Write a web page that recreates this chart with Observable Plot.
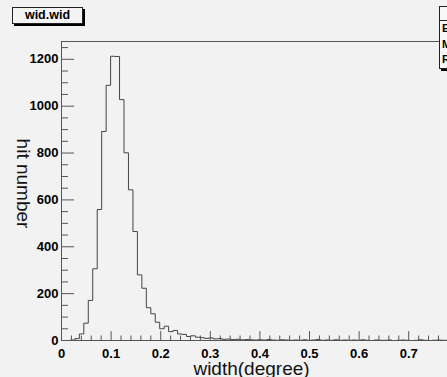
<!DOCTYPE html>
<html><head><meta charset="utf-8">
<script src="https://cdn.jsdelivr.net/npm/d3@7"></script>
<script src="https://cdn.jsdelivr.net/npm/@observablehq/plot@0.6"></script>
<style>
html,body{margin:0;padding:0;background:#f2f2f2;overflow:hidden;width:447px;height:377px;}
#wrap{position:relative;width:447px;height:377px;overflow:hidden;font-family:"Liberation Sans",Arial,Helvetica,sans-serif;}
#wrap svg{display:block;}
#title{position:absolute;left:12px;top:7px;width:69px;height:15px;border:1px solid #222;box-shadow:2px 2px 0 #000;background:#f4f4f4;font-weight:bold;font-size:12.5px;text-align:center;line-height:15px;color:#000;}
#stats{position:absolute;left:439px;top:6px;width:150px;border:1px solid #222;box-shadow:2px 2px 0 #000;background:#f8f8f8;font-size:11px;font-weight:bold;color:#000;}
#stats .hd{height:13px;border-bottom:1px solid #222;text-align:center;font-size:10px;line-height:13px;}
#stats .row{height:15.5px;line-height:15.5px;padding-left:2px;display:flex;justify-content:space-between;padding-right:6px;}
</style>
</head><body>
<div id="wrap"></div>
<script>
// ---- data ----
const histName = "wid.wid";
const xTitle = "width(degree)";
const yTitle = "hit number";
const binWidth = 0.009;
// bin contents, bins of width 0.009 starting at 0
const counts = [
  0, 0, 2, 8, 28, 74, 171, 306, 559, 892,
  1089, 1213, 1212, 1028, 801, 643, 465, 280, 223, 140,
  114, 78, 50, 61, 38, 43, 28, 26, 17, 20,
  14, 12, 9, 11, 7, 8, 5, 6, 4, 5,
  3, 4, 3, 2, 3, 2, 4, 2, 1, 3,
  2, 1, 2, 1, 3, 1, 2, 4, 1, 2,
  1, 3, 1, 2, 1, 2, 1, 3, 1, 0,
  2, 1, 1, 2, 0, 1, 2, 1, 0, 1,
  3, 1, 0, 1, 2, 1, 1, 0, 1, 1,
  1, 0, 1, 0, 0, 1, 0, 1, 0, 0
];
const xMajor = [0, 0.1, 0.2, 0.3, 0.4, 0.5, 0.6, 0.7];
const xMinor = [0.02, 0.04, 0.06, 0.08, 0.12, 0.14, 0.16, 0.18, 0.22, 0.24, 0.26, 0.28,
  0.32, 0.34, 0.36, 0.38, 0.42, 0.44, 0.46, 0.48, 0.52, 0.54, 0.56, 0.58,
  0.62, 0.64, 0.66, 0.68, 0.72, 0.74, 0.76];
const yMajor = [0, 200, 400, 600, 800, 1000, 1200];
const yMinor = [50, 100, 150, 250, 300, 350, 450, 500, 550, 650, 700, 750,
  850, 900, 950, 1050, 1100, 1150, 1250];
const statsLabels = ["Entries", "Mean", "RMS"];
const statsValues = ["9783", "0.1175", "0.04163"];

// ---- layout ----
const W = 447, H = 377;
const mL = 61, mR = 0, mT = 41, mB = 37;
const plotW = W - mL - mR, plotH = H - mT - mB;
const xMax = 0.7782, yMax = 1276;

const pts = counts.map((c, i) => ({x: i * binWidth, y: c}));
pts.push({x: counts.length * binWidth, y: 0});

const axisColor = "#555";
const chart = Plot.plot({
  width: W, height: H,
  marginLeft: mL, marginRight: mR, marginTop: mT, marginBottom: mB,
  style: {background: "#f2f2f2", fontFamily: "'Liberation Sans', Arial, Helvetica, sans-serif", overflow: "hidden"},
  x: {domain: [0, xMax]},
  y: {domain: [0, yMax]},
  marks: [
    Plot.line(pts, {x: "x", y: "y", curve: "step-after", stroke: "#444", strokeWidth: 1, clip: true}),
    Plot.tickX(xMinor, {x: d => d, insetTop: plotH - 4.5, stroke: axisColor}),
    Plot.tickX(xMajor, {x: d => d, insetTop: plotH - 9, stroke: axisColor}),
    Plot.tickY(yMinor, {y: d => d, insetRight: plotW - 7, stroke: axisColor}),
    Plot.tickY(yMajor, {y: d => d, insetRight: plotW - 13, stroke: axisColor}),
    Plot.ruleY([0], {stroke: axisColor}),
    Plot.ruleY([yMax], {stroke: axisColor}),
    Plot.ruleX([0], {stroke: axisColor}),
    Plot.axisX(xMajor, {tickSize: 0, tickPadding: 8.5, fontSize: 13, fontWeight: "bold", fill: "#000",
      tickFormat: d => d === 0 ? "0" : d.toFixed(1), label: null}),
    Plot.axisY(yMajor, {tickSize: 0, tickPadding: 3, fontSize: 13, fontWeight: "bold", fill: "#000",
      tickFormat: d => String(d), label: null}),
    Plot.text([xTitle], {frameAnchor: "bottom", textAnchor: "middle", lineAnchor: "middle",
      dx: -3, dy: 28, fontSize: 19, fill: "#111"}),
    Plot.text([yTitle], {frameAnchor: "left", textAnchor: "middle", lineAnchor: "middle",
      rotate: 90, dx: -38, dy: -7.5, fontSize: 19, fill: "#111"})
  ]
});
const wrap = document.getElementById("wrap");
wrap.appendChild(chart);

const t = document.createElement("div");
t.id = "title"; t.textContent = histName;
wrap.appendChild(t);

const s = document.createElement("div");
s.id = "stats";
const hd = document.createElement("div"); hd.className = "hd"; hd.textContent = "wid";
s.appendChild(hd);
statsLabels.forEach((l, i) => {
  const r = document.createElement("div"); r.className = "row";
  const a = document.createElement("span"); a.textContent = l;
  const b = document.createElement("span"); b.textContent = statsValues[i];
  r.appendChild(a); r.appendChild(b); s.appendChild(r);
});
wrap.appendChild(s);
</script>
</body></html>
